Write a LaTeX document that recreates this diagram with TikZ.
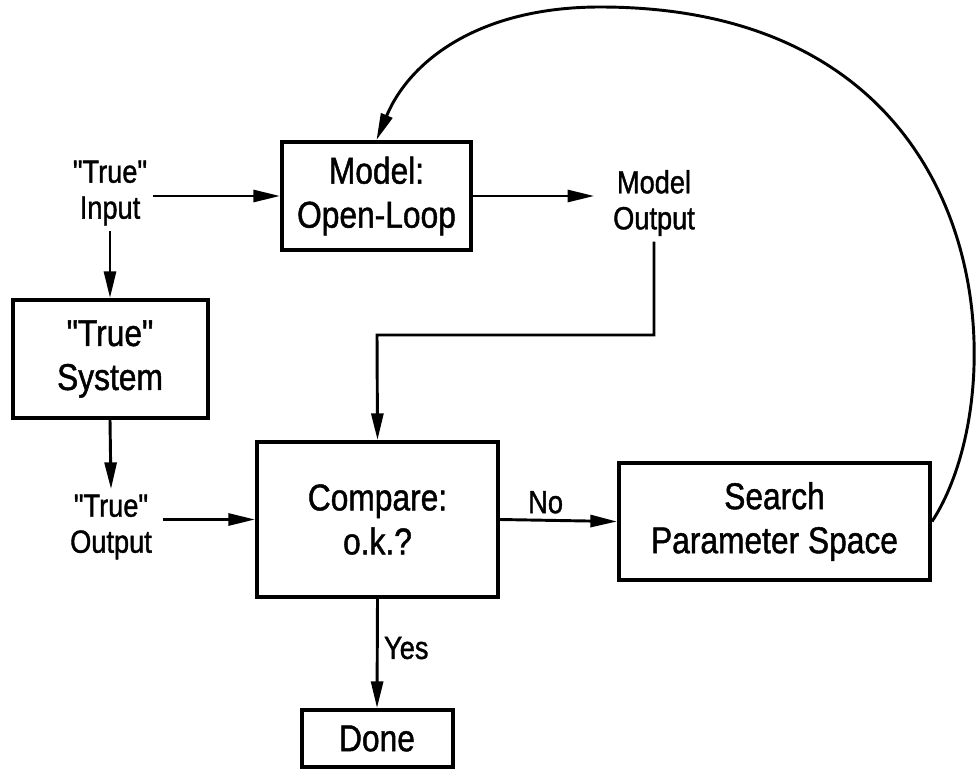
\documentclass[tikz,border=0pt]{standalone}
\usepackage{fontspec}
\setmainfont{Liberation Sans}[FakeStretch=0.85, FakeBold=1.2, Ligatures=TeXOff]
\usetikzlibrary{arrows.meta}
\begin{document}
\begin{tikzpicture}[x=0.75pt,y=-0.75pt,
  box/.style={draw, line width=3pt, inner sep=0pt, align=center, font=\fontsize{28}{33}\selectfont},
  lab/.style={align=center, inner sep=4pt, font=\fontsize{24}{27}\selectfont},
  arr/.style={line width=2.2pt, -{Triangle[length=20pt,width=9pt]}},
]
\useasboundingbox (0,0) rectangle (980,770);
% boxes
\node[box, minimum width=141.75pt, minimum height=81pt] (model) at (376.5,196) {Model:\\Open-Loop};
\node[box, minimum width=146.25pt, minimum height=88.5pt] (system) at (110,359) {"True"\\System};
\node[box, minimum width=180.75pt, minimum height=116.25pt] (compare) at (377.5,519.5) {Compare:\\o.k.?};
\node[box, minimum width=233.25pt, minimum height=87.75pt] (search) at (774.5,521.5) {Search\\Parameter Space};
\node[box, minimum width=113.25pt, minimum height=42.75pt] (done) at (377,738.5) {Done};
% free labels
\node[lab] (input) at (110,193) {"True"\\Input};
\node[lab] (mout) at (654,203) {Model\\Output};
\node[lab] (tout) at (111,527) {"True"\\Output};
\coordinate (jog) at (377,335);
% connectors
\draw[arr] (input.east |- model) -- (model.west);
\draw[arr] (model.east) -- ([xshift=-10pt]mout.west |- model.east);
\draw[arr] (input.south) -- (system.north);
\draw[arr] (system.south) -- (tout.north);
\draw[arr] ([xshift=4pt]tout.east |- compare) -- (compare.west);
\draw[arr] (mout.south) |- (jog) -- (compare.north);
\draw[arr] (compare.east) -- node[lab, above, pos=0.39] (no) {No} (search.west);
\draw[arr] (compare.south) -- node[lab, right, pos=0.45] (yes) {Yes} (done.north);
\draw[arr] (search.east) .. controls (1018,390) and (1002,7) .. (600,7)
  .. controls (480,7) and (410,60) .. (model.north);
\end{tikzpicture}
\end{document}
